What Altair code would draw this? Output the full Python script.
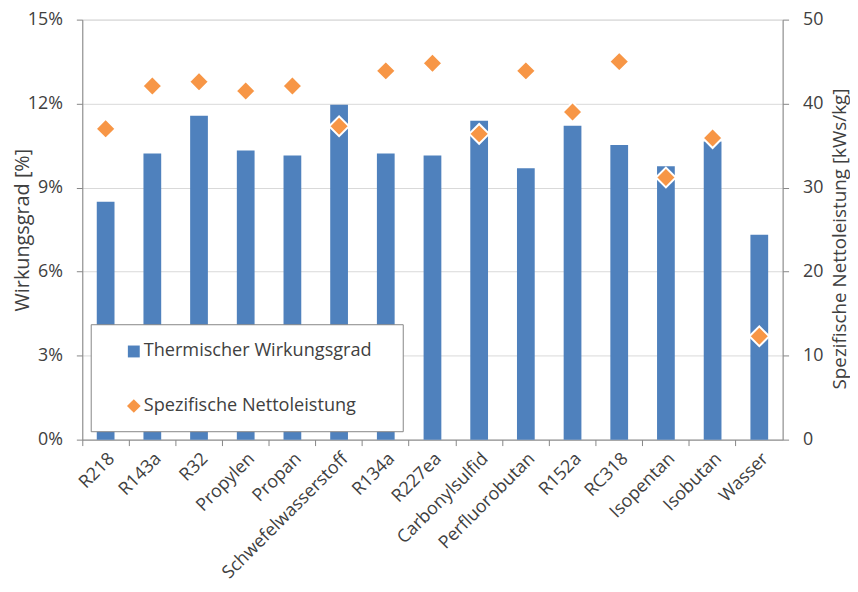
import altair as alt
import pandas as pd

categories = ["R218", "R143a", "R32", "Propylen", "Propan", "Schwefelwasserstoff",
              "R134a", "R227ea", "Carbonylsulfid", "Perfluorobutan", "R152a",
              "RC318", "Isopentan", "Isobutan", "Wasser"]
wirkungsgrad = [8.5, 10.22, 11.57, 10.33, 10.15, 11.96, 10.22, 10.15, 11.39,
                9.69, 11.21, 10.52, 9.76, 10.65, 7.32]
nettoleistung = [37.0, 42.1, 42.6, 41.5, 42.1, 37.3, 43.9, 44.8, 36.4,
                 43.9, 39.0, 45.0, 31.2, 35.9, 12.3]
left_ticks = [0, 3, 6, 9, 12, 15]
right_ticks = [0, 10, 20, 30, 40, 50]
legend_labels = ["Thermischer Wirkungsgrad", "Spezifische Nettoleistung"]

df = pd.DataFrame({"Stoff": categories, "eta": wirkungsgrad, "w": nettoleistung})

FONT = "Open Sans"
TXT = "#404040"
AX = "#868686"
BLUE = "#4F81BD"
ORANGE = "#F79646"

x_enc = alt.X(
    "Stoff:N", sort=categories, title=None,
    scale=alt.Scale(paddingInner=0, paddingOuter=0),
    axis=alt.Axis(labelAngle=-45, labelAlign="right", labelBaseline="top",
                  labelFontSize=18, labelColor=TXT, labelFont=FONT,
                  labelPadding=4, bandPosition=0, tickSize=6, labelLimit=400,
                  domainColor=AX, tickColor=AX, grid=False, labelOverlap=False),
)

bars = alt.Chart(df).mark_bar(color=BLUE, width=alt.RelativeBandSize(0.38)).encode(
    x=x_enc,
    y=alt.Y("eta:Q", scale=alt.Scale(domain=[0, 15], nice=False),
            axis=alt.Axis(values=left_ticks, labelExpr="datum.value + '%'",
                          title="Wirkungsgrad [%]", titleAngle=270,
                          titleX=-60, titleY=212, titleBaseline="middle",
                          titleFontSize=20, titleFont=FONT, titleColor=TXT,
                          titleFontWeight="normal",
                          labelFontSize=18, labelFont=FONT, labelColor=TXT,
                          labelPadding=14, tickSize=6, domainColor=AX, tickColor=AX,
                          grid=True, gridColor="#D9D9D9")),
)

points = alt.Chart(df).mark_point(shape="diamond", filled=True, color=ORANGE,
                                  fill=ORANGE, stroke="white", strokeWidth=2,
                                  size=400, opacity=1).encode(
    x=x_enc,
    y=alt.Y("w:Q", scale=alt.Scale(domain=[0, 50], nice=False),
            axis=alt.Axis(orient="right", values=right_ticks,
                          title="Spezifische Nettoleistung [kWs/kg]", titleAngle=270,
                          titleX=57, titleY=221, titleBaseline="middle",
                          titleFontSize=19, titleFont=FONT, titleColor=TXT,
                          titleFontWeight="normal",
                          labelFontSize=18, labelFont=FONT, labelColor=TXT,
                          labelPadding=14, tickSize=6, domainColor=AX, tickColor=AX,
                          grid=False)),
)

one = alt.Data(values=[{}])
legend_box = alt.Chart(one).mark_rect(fill="white", stroke=AX, strokeWidth=1).encode(
    x=alt.value(9), x2=alt.value(324), y=alt.value(308), y2=alt.value(416))
leg_sq = alt.Chart(one).mark_point(shape="square", filled=True, color=BLUE, size=144,
                                   opacity=1).encode(x=alt.value(52), y=alt.value(335))
leg_dm = alt.Chart(one).mark_point(shape="diamond", filled=True, color=ORANGE, size=190,
                                   opacity=1).encode(x=alt.value(52), y=alt.value(390))
leg_t1 = alt.Chart(one).mark_text(text=legend_labels[0], align="left", baseline="middle",
                                  font=FONT, fontSize=18.3, color=TXT).encode(
    x=alt.value(62), y=alt.value(335))
leg_t2 = alt.Chart(one).mark_text(text=legend_labels[1], align="left", baseline="middle",
                                  font=FONT, fontSize=18.3, color=TXT).encode(
    x=alt.value(62), y=alt.value(390))

chart = alt.layer(bars, points, legend_box, leg_sq, leg_dm, leg_t1, leg_t2).resolve_scale(
    y="independent"
).properties(
    width=707, height=424,
    padding={"left": 75, "top": 9, "right": 68, "bottom": 143},
    autosize=alt.AutoSizeParams(type="none"),
).configure_view(stroke=None).configure(background="white")

chart.save("out.html", embed_options={"renderer": "svg", "actions": False})
